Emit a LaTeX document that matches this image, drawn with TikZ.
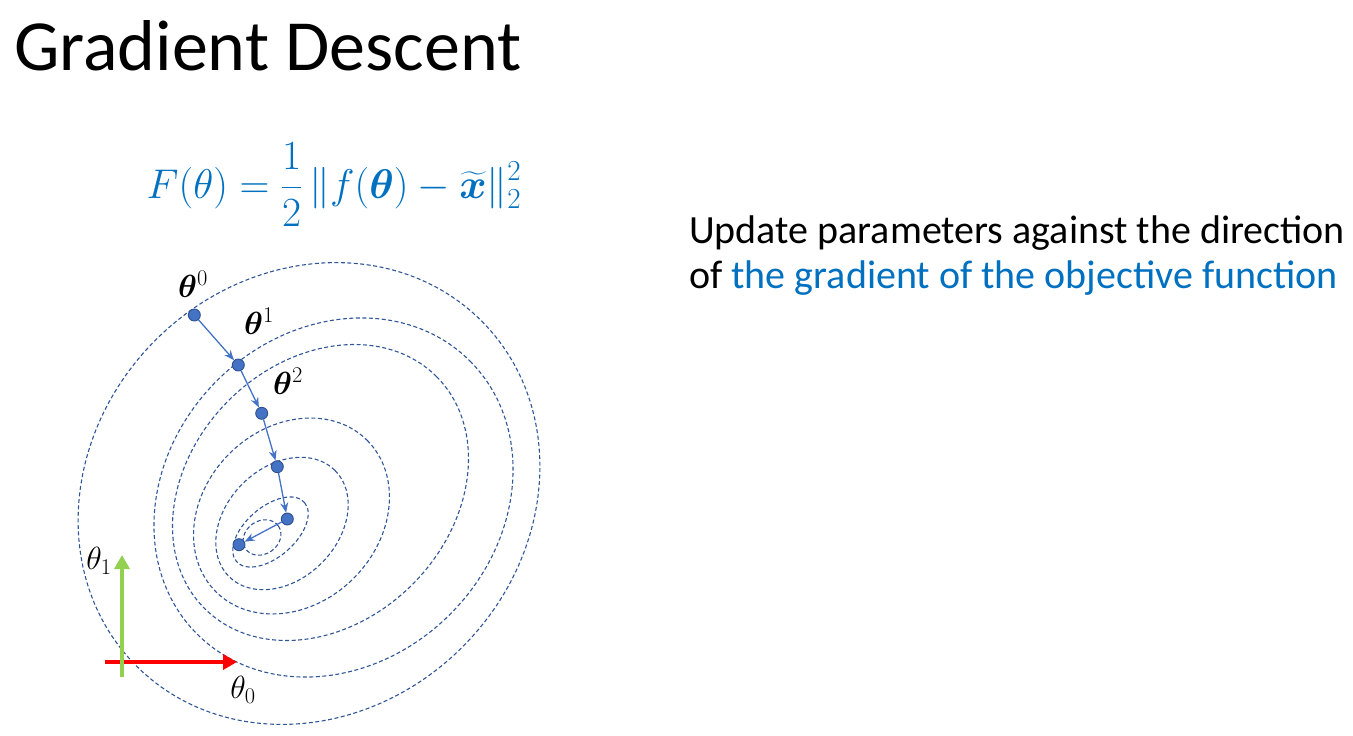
\RequirePackage{fix-cm}
\documentclass[tikz,border=0pt]{standalone}
\usepackage{amsmath,bm}
\usepackage{fontspec}
\setmainfont{Carlito}
\usetikzlibrary{arrows.meta}
\definecolor{contourblue}{HTML}{2F5597}
\definecolor{dotblue}{HTML}{4472C4}
\definecolor{dotedge}{HTML}{2F528F}
\definecolor{textblue}{HTML}{0070C0}
\definecolor{axisgreen}{HTML}{92D050}
\begin{document}
\begin{tikzpicture}[x=1pt,y=-1pt,
  contour/.style={draw=contourblue, dash pattern=on 4pt off 2.5pt, line width=1.1pt},
  dot/.style={circle, fill=dotblue, draw=dotedge, line width=0.9pt, minimum size=12pt, inner sep=0pt},
  steparrow/.style={draw=dotblue, line width=1.3pt, -{Stealth[length=10pt,width=8pt]}},
  axisarrow/.style={line width=4.5pt, -{Triangle[length=14pt,width=15pt]}},
  thlabel/.style={inner sep=0pt, font=\fontsize{32}{36}\selectfont},
]
\useasboundingbox (0,0) rectangle (1353,736);

% level sets of the objective
\draw[contour, rotate around={45:(309,493.5)}]   (309,493.5)   ellipse [x radius=244, y radius=217];
\draw[contour, rotate around={45:(333.5,497.5)}] (333.5,497.5) ellipse [x radius=193, y radius=165];
\draw[contour, rotate around={45:(320.5,492.5)}] (320.5,492.5) ellipse [x radius=164, y radius=130];
\draw[contour, rotate around={45:(291.5,516)}]   (291.5,516)   ellipse [x radius=107, y radius=88];
\draw[contour, rotate around={45:(282,523.5)}]   (282,523.5)   ellipse [x radius=75, y radius=56];
\draw[contour, rotate around={41:(270.5,532)}]   (270.5,532)   ellipse [x radius=45, y radius=25];
\draw[contour, rotate around={35:(262,537.5)}]   (262,537.5)   ellipse [x radius=20, y radius=16.5];

% coordinate axes
\coordinate (r0) at (105,662);
\coordinate (r1) at (237,662);
\coordinate (g0) at (122,677);
\coordinate (g1) at (122,555);
\draw[axisarrow, red] (r0) -- (r1);
\draw[axisarrow, axisgreen] (g0) -- (g1);
\node[thlabel] (ax1) at (99,561) {$\theta_1$};
\node[thlabel] (ax0) at (243,690) {$\theta_0$};

% iterates
\node[dot] (p0) at (194.3,315) {};
\node[dot] (p1) at (238.3,365) {};
\node[dot] (p2) at (261.7,413.3) {};
\node[dot] (p3) at (277.3,466.7) {};
\node[dot] (p4) at (287.3,519) {};
\node[dot] (p5) at (239,544.7) {};
\draw[steparrow] (p0) -- (p1);
\draw[steparrow] (p1) -- (p2);
\draw[steparrow] (p2) -- (p3);
\draw[steparrow] (p3) -- (p4);
\draw[steparrow] (p4) -- (p5);
\node[thlabel] (t0) at (193,284) {$\bm{\theta}^{0}$};
\node[thlabel] (t1) at (259,321) {$\bm{\theta}^{1}$};
\node[thlabel] (t2) at (288,381) {$\bm{\theta}^{2}$};

% texts
\node[anchor=base west, inner sep=0pt, font=\fontsize{72}{80}\selectfont] (title) at (14,70) {Gradient Descent};
\node[anchor=base, inner sep=0pt, text=textblue, font=\fontsize{41.5}{48}\selectfont] (formula) at (334,198)
  {$\displaystyle F(\theta)=\frac{1}{2}\,\|f(\bm{\theta})-\widetilde{\bm{x}}\|_2^2$};
\node[anchor=base west, inner sep=0pt, font=\fontsize{40}{44}\selectfont] (line1) at (689,243)
  {Update parameters against the direction};
\node[anchor=base west, inner sep=0pt, font=\fontsize{40}{44}\selectfont] (line2) at (689,288)
  {of \textcolor{textblue}{the gradient of the objective function}};
\end{tikzpicture}
\end{document}
